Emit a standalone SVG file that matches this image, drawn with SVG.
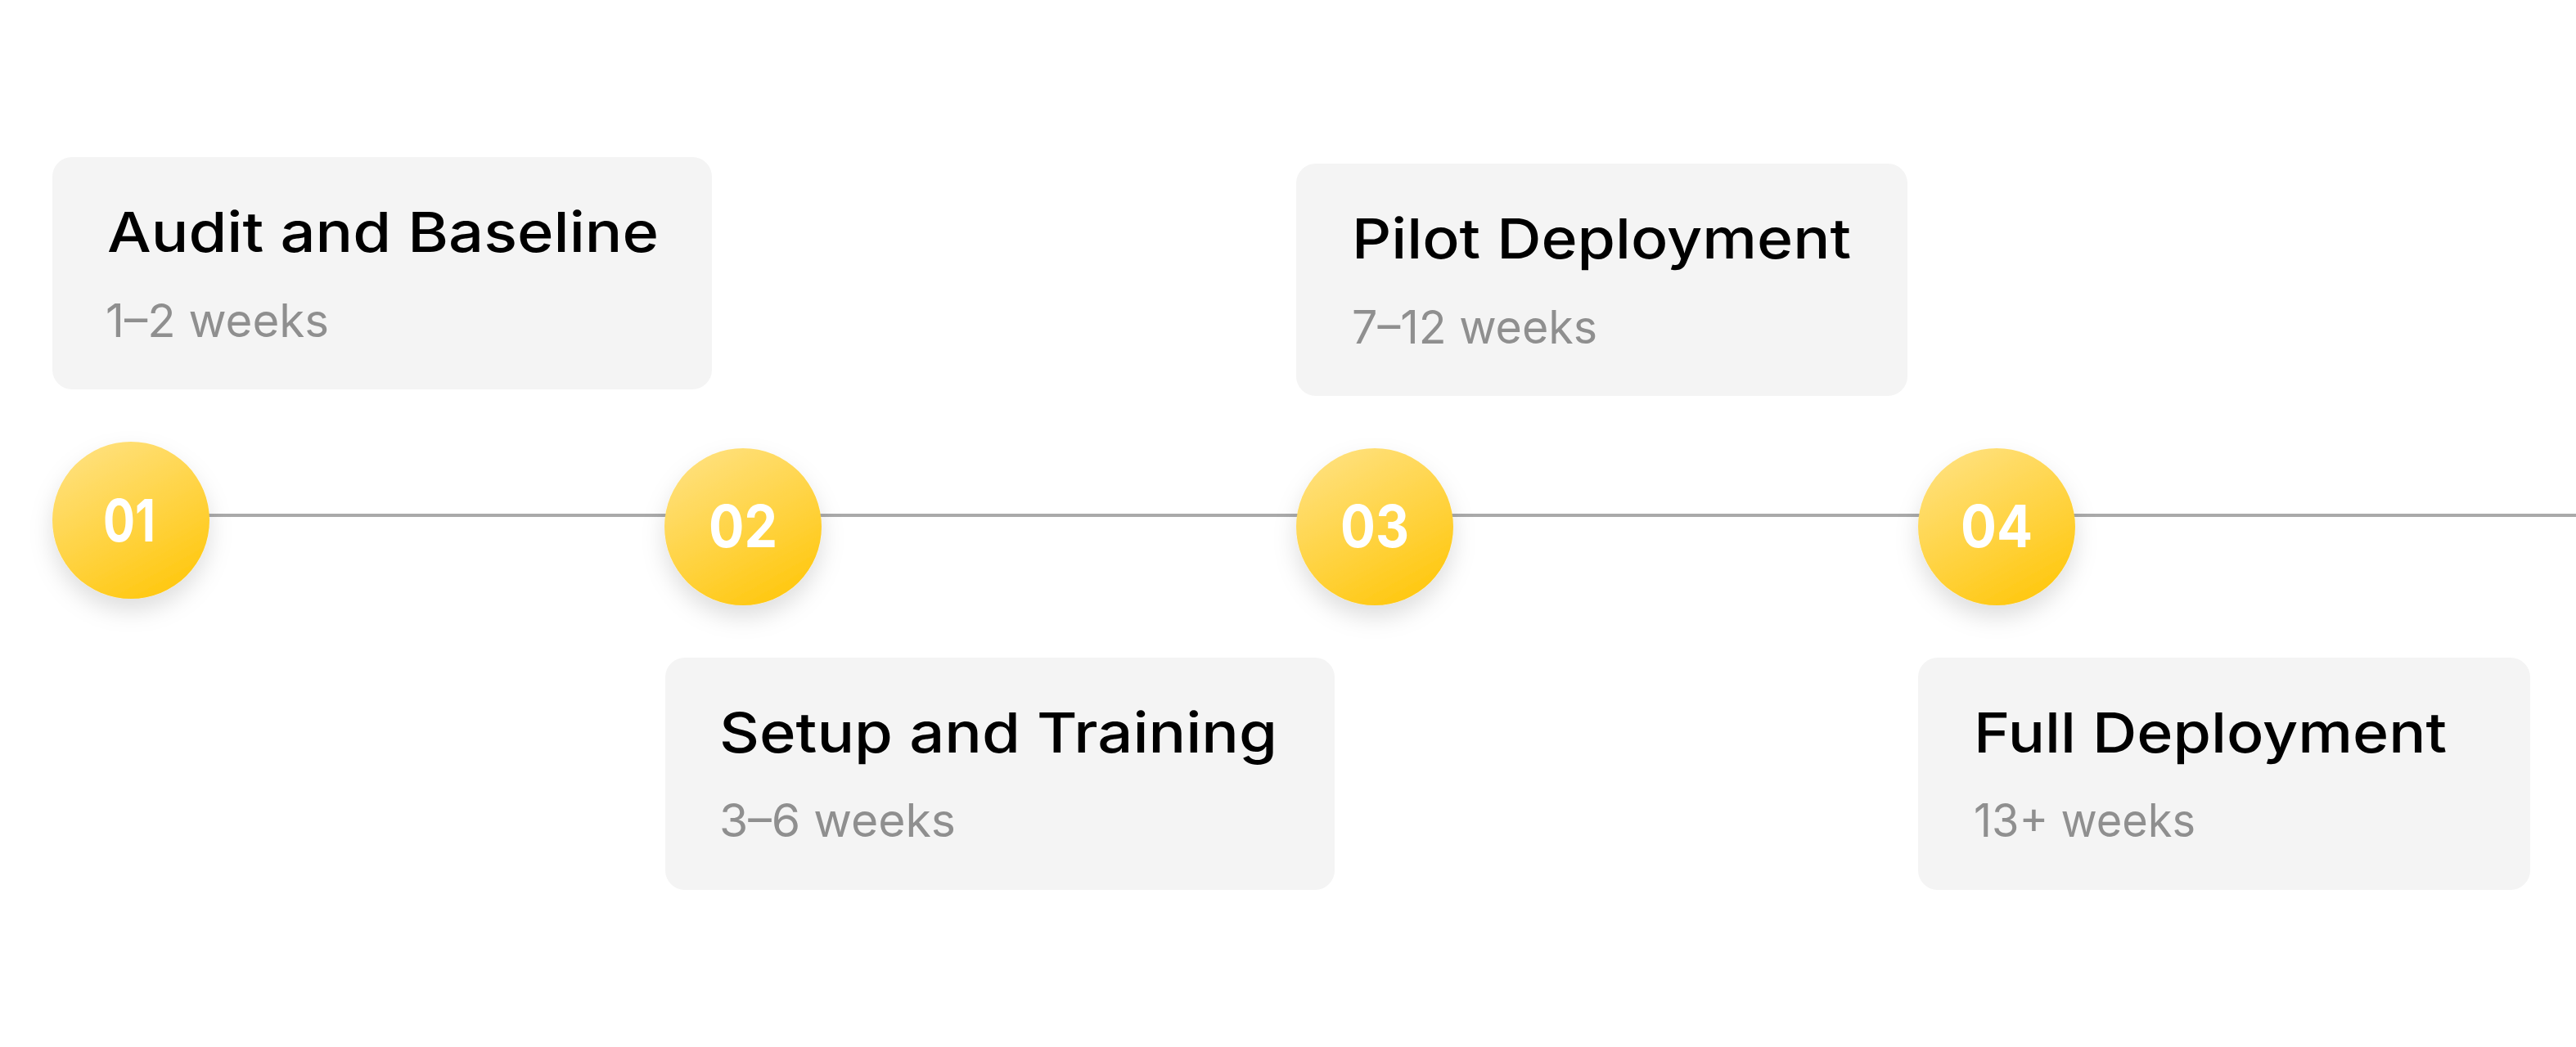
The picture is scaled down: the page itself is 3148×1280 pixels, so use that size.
<svg xmlns="http://www.w3.org/2000/svg" width="3148" height="1280" viewBox="0 0 3148 1280">
  <style>
    .card { fill: #f4f4f4; }
    .title { font-family: Inter, "Open Sans", sans-serif; font-weight: 500; font-size: 68px; fill: #000000; }
    .sub { font-family: Inter, "Open Sans", sans-serif; font-weight: 400; font-size: 56px; fill: #8f8f8f; }
    .num { font-family: Inter, "Open Sans", sans-serif; font-weight: 700; font-size: 72px; fill: #ffffff; text-anchor: middle; }
    .dot { fill: url(#gold); filter: url(#shadow); }
    .line { stroke: #aaaaaa; stroke-width: 4; fill: none; }
  </style>
  <defs>
    <linearGradient id="gold" x1="0.2" y1="0" x2="0.75" y2="1">
      <stop offset="0" stop-color="#ffe17f"/>
      <stop offset="1" stop-color="#ffc70d"/>
    </linearGradient>
    <filter id="shadow" x="-50%" y="-50%" width="200%" height="200%">
      <feDropShadow dx="0" dy="14" stdDeviation="14" flood-color="#000000" flood-opacity="0.13"/>
    </filter>
  </defs>
  <rect width="3148" height="1280" fill="#ffffff"/>

  <g id="connectors">
    <line class="line" x1="160" y1="630" x2="3148" y2="630"/>
  </g>

  <g id="node-01">
    <rect class="card" x="64" y="192" width="806" height="284" rx="24"/>
    <text class="title" x="131" y="308" textLength="674" lengthAdjust="spacingAndGlyphs">Audit and Baseline</text>
    <text class="sub" x="129" y="412" textLength="273" lengthAdjust="spacingAndGlyphs">1–2 weeks</text>
    <circle class="dot" cx="160" cy="636" r="96"/>
    <text class="num" x="158" y="662" textLength="64" lengthAdjust="spacingAndGlyphs">01</text>
  </g>

  <g id="node-02">
    <rect class="card" x="813" y="804" width="818" height="284" rx="24"/>
    <text class="title" x="879" y="920" textLength="682" lengthAdjust="spacingAndGlyphs">Setup and Training</text>
    <text class="sub" x="879" y="1023" textLength="289" lengthAdjust="spacingAndGlyphs">3–6 weeks</text>
    <circle class="dot" cx="908" cy="644" r="96"/>
    <text class="num" x="908" y="669" textLength="84" lengthAdjust="spacingAndGlyphs">02</text>
  </g>

  <g id="node-03">
    <rect class="card" x="1584" y="200" width="747" height="284" rx="24"/>
    <text class="title" x="1652" y="316" textLength="610" lengthAdjust="spacingAndGlyphs">Pilot Deployment</text>
    <text class="sub" x="1652" y="420" textLength="300" lengthAdjust="spacingAndGlyphs">7–12 weeks</text>
    <circle class="dot" cx="1680" cy="644" r="96"/>
    <text class="num" x="1680" y="669" textLength="84" lengthAdjust="spacingAndGlyphs">03</text>
  </g>

  <g id="node-04">
    <rect class="card" x="2344" y="804" width="748" height="284" rx="24"/>
    <text class="title" x="2412" y="920" textLength="578" lengthAdjust="spacingAndGlyphs">Full Deployment</text>
    <text class="sub" x="2412" y="1023" textLength="271" lengthAdjust="spacingAndGlyphs">13+ weeks</text>
    <circle class="dot" cx="2440" cy="644" r="96"/>
    <text class="num" x="2440" y="669" textLength="88" lengthAdjust="spacingAndGlyphs">04</text>
  </g>
</svg>
